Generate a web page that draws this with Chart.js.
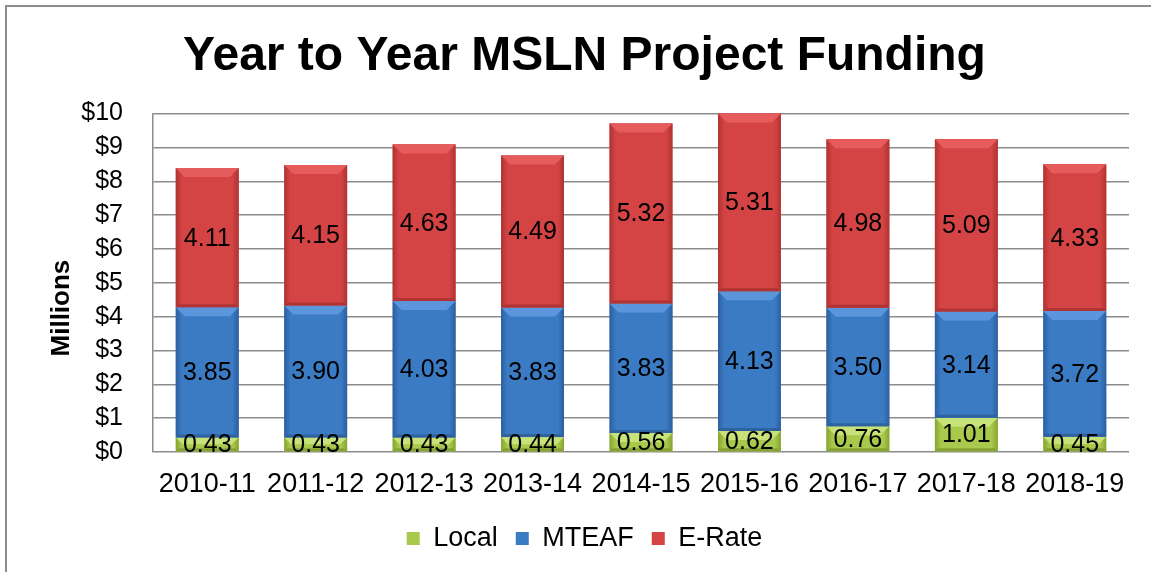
<!DOCTYPE html>
<html>
<head>
<meta charset="utf-8">
<script src="https://cdn.jsdelivr.net/npm/chart.js@4"></script>
<style>
  html, body { margin: 0; padding: 0; background: #fff; overflow: hidden; }
  #frame { position: absolute; left: 5px; top: 5px; width: 1300px; height: 700px; border: 2px solid #8c8c8c; }
  #wrap { position: absolute; left: 0; top: 0; width: 1151px; height: 572px; }
</style>
</head>
<body>
<div id="frame"></div>
<div id="wrap"><canvas id="fundingChart"></canvas></div>
<script>
const years = ['2010-11', '2011-12', '2012-13', '2013-14', '2014-15', '2015-16', '2016-17', '2017-18', '2018-19'];
const localFunds = [0.43, 0.43, 0.43, 0.44, 0.56, 0.62, 0.76, 1.01, 0.45];
const mteafFunds = [3.85, 3.90, 4.03, 3.83, 3.83, 4.13, 3.50, 3.14, 3.72];
const erateFunds = [4.11, 4.15, 4.63, 4.49, 5.32, 5.31, 4.98, 5.09, 4.33];
const yTicks = [0, 1, 2, 3, 4, 5, 6, 7, 8, 9, 10];

const FONT = 'Liberation Sans, Arial, sans-serif';

// colours for each series: edge, middle, top bevel, bottom bevel
const shades = [
  { edge: '#86a532', mid: '#a9c94d', top: '#c8e27a', low: '#86a334' },
  { edge: '#2c5f9f', mid: '#3b7bc4', top: '#5b96dc', low: '#2f629f' },
  { edge: '#b03232', mid: '#d44444', top: '#e65c5c', low: '#b03434' }
];

// paint bars with gradient + bevel, then the values on top
const bevelBars = {
  id: 'bevelBars',
  afterDatasetsDraw(chart) {
    const ctx = chart.ctx;
    const area = chart.chartArea;
    const labels = [];
    chart.data.datasets.forEach((ds, i) => {
      const meta = chart.getDatasetMeta(i);
      const s = shades[i];
      meta.data.forEach((bar, j) => {
        const p = bar.getProps(['x', 'y', 'base', 'width'], true);
        const left = p.x - p.width / 2;
        const right = p.x + p.width / 2;
        const top = Math.max(Math.min(p.y, p.base), area.top);
        const bottom = Math.min(Math.max(p.y, p.base), area.bottom);
        const h = bottom - top;
        if (h <= 0) return;
        ctx.save();
        const g = ctx.createLinearGradient(left, 0, right, 0);
        g.addColorStop(0, s.edge);
        g.addColorStop(0.1, s.mid);
        g.addColorStop(0.9, s.mid);
        g.addColorStop(1, s.edge);
        ctx.fillStyle = g;
        ctx.fillRect(left, top, p.width, h);
        const b = Math.min(9, h / 2);
        ctx.fillStyle = s.top;
        ctx.beginPath();
        ctx.moveTo(left, top);
        ctx.lineTo(right, top);
        ctx.lineTo(right - b, top + b);
        ctx.lineTo(left + b, top + b);
        ctx.closePath();
        ctx.fill();
        const bb = Math.min(3, h / 3);
        ctx.fillStyle = s.low;
        ctx.beginPath();
        ctx.moveTo(left, bottom);
        ctx.lineTo(right, bottom);
        ctx.lineTo(right - bb, bottom - bb);
        ctx.lineTo(left + bb, bottom - bb);
        ctx.closePath();
        ctx.fill();
        ctx.restore();
        labels.push({ x: p.x, y: (top + bottom) / 2, text: ds.data[j].toFixed(2) });
      });
    });
    ctx.save();
    ctx.fillStyle = '#000';
    ctx.font = '25px ' + FONT;
    ctx.textAlign = 'center';
    ctx.textBaseline = 'middle';
    labels.forEach(l => ctx.fillText(l.text, l.x, l.y + 1));
    ctx.restore();
  }
};

new Chart(document.getElementById('fundingChart'), {
  type: 'bar',
  data: {
    labels: years,
    datasets: [
      { label: 'Local', data: localFunds, backgroundColor: shades[0].mid },
      { label: 'MTEAF', data: mteafFunds, backgroundColor: shades[1].mid },
      { label: 'E-Rate', data: erateFunds, backgroundColor: shades[2].mid }
    ]
  },
  options: {
    responsive: true,
    maintainAspectRatio: false,
    animation: false,
    barPercentage: 0.58,
    categoryPercentage: 1,
    layout: { padding: { left: 40, right: 22, top: 0, bottom: 10 } },
    scales: {
      x: {
        stacked: true,
        grid: { display: false },
        border: { display: false },
        ticks: { color: '#000', font: { family: FONT, size: 27 }, padding: 8 },
        afterFit(scale) { scale.height = 55; }
      },
      y: {
        stacked: true,
        min: 0,
        max: 10,
        afterBuildTicks(scale) { scale.ticks = yTicks.map(v => ({ value: v })); },
        grid: { color: '#8c8c8c', lineWidth: 1.5, drawTicks: false },
        border: { display: true, color: '#8c8c8c', width: 1.5 },
        ticks: { color: '#000', font: { family: FONT, size: 25 }, padding: 30, callback: v => '$' + v },
        // trailing spaces push the word down toward the lower half, like the original
        title: { display: true, text: 'Millions       ', color: '#000', font: { family: FONT, size: 26, weight: 'bold' }, padding: { top: 6, bottom: 0 } },
        afterFit(scale) { scale.width = 113; }
      }
    },
    plugins: {
      title: {
        display: true,
        text: 'Year to Year MSLN Project Funding',
        color: '#000',
        font: { family: FONT, size: 48, weight: 'bold' },
        padding: { top: 28, bottom: 28 }
      },
      legend: {
        position: 'bottom',
        labels: { color: '#000', font: { family: FONT, size: 27 }, boxWidth: 13, boxHeight: 13, padding: 18 }
      },
      tooltip: { enabled: false }
    }
  },
  plugins: [bevelBars]
});
</script>
</body>
</html>
